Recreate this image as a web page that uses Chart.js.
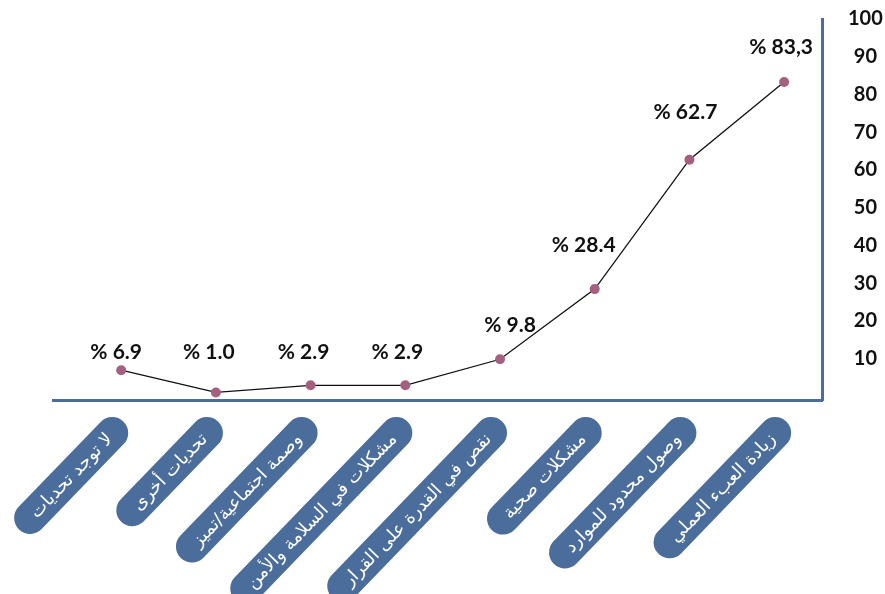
<!DOCTYPE html>
<html lang="ar">
<head>
<meta charset="utf-8">
<script src="https://cdn.jsdelivr.net/npm/chart.js@4.4.1/dist/chart.umd.min.js"></script>
<style>
  html, body { margin: 0; padding: 0; background: #fff; }
</style>
</head>
<body>
<canvas id="lineChart" width="885" height="594"></canvas>
<script>
const categories = ['لا توجد تحديات', 'تحديات أخرى', 'وصمة اجتماعية/تميز', 'مشكلات في السلامة والأمن',
                    'نقص في القدرة على القرار', 'مشكلات صحية', 'وصول محدود للموارد', 'زيادة العبء العملي'];
const values = [6.9, 1.0, 2.9, 2.9, 9.8, 28.4, 62.7, 83.3];
const valueLabels = ['% 6.9', '% 1.0', '% 2.9', '% 2.9', '% 9.8', '% 28.4', '% 62.7', '% 83,3'];
const yTicks = [10, 20, 30, 40, 50, 60, 70, 80, 90, 100];

const axisBlue = '#4a6d9c';

// small shifts for the percentage labels, from each point
const labelNudge = [[-5, -18], [-7, -40], [-7, -33], [-8, -33], [10, -34], [-11, -44], [-4, -47], [-3, -35]];

// percentage text above the points
const valueLabelPlugin = {
    id: 'valueLabels',
    afterDatasetsDraw(chart) {
        const ctx = chart.ctx;
        const meta = chart.getDatasetMeta(0);
        ctx.save();
        ctx.font = '700 21px Lato';
        ctx.fillStyle = '#111';
        ctx.textAlign = 'center';
        ctx.textBaseline = 'middle';
        meta.data.forEach((pt, i) => {
            const [dx, dy] = labelNudge[i];
            ctx.fillText(valueLabels[i], pt.x + dx, pt.y + dy);
        });
        ctx.restore();
    }
};

// category names in slanted rounded boxes under the axis
const pillLabelPlugin = {
    id: 'pillLabels',
    afterDraw(chart) {
        const ctx = chart.ctx;
        const xScale = chart.scales.x;
        const r = 16, pad = 20, angle = -46 * Math.PI / 180;
        ctx.save();
        ctx.font = '18px "DejaVu Sans"';
        categories.forEach((label, i) => {
            const ex = xScale.getPixelForValue(i) - 9;
            const ey = xScale.top + 33;
            const w = ctx.measureText(label).width + pad * 2;
            ctx.save();
            ctx.translate(ex, ey);
            ctx.rotate(angle);
            ctx.beginPath();
            ctx.roundRect(r - w, -r, w, 2 * r, r);
            ctx.fillStyle = axisBlue;
            ctx.fill();
            ctx.fillStyle = '#fff';
            ctx.direction = 'rtl';
            ctx.textAlign = 'center';
            ctx.textBaseline = 'middle';
            ctx.fillText(label, r - w / 2, 1);
            ctx.restore();
        });
        ctx.restore();
    }
};

new Chart(document.getElementById('lineChart'), {
    type: 'line',
    data: {
        datasets: [{
            data: values.map((v, i) => ({ x: i, y: v })),
            borderColor: '#111',
            borderWidth: 1.3,
            pointBackgroundColor: '#a6607f',
            pointBorderWidth: 0,
            pointRadius: 5,
            tension: 0
        }]
    },
    options: {
        responsive: false,
        animation: false,
        layout: { padding: { top: 19, left: 53 } },
        scales: {
            x: {
                type: 'linear',
                min: -0.72,
                max: 7.4,
                grid: { display: false },
                ticks: { display: false },
                border: { color: axisBlue, width: 3 },
                afterFit(s) { s.height = 194; }
            },
            y: {
                position: 'right',
                min: -1,
                max: 100,
                afterBuildTicks(s) { s.ticks = yTicks.map(v => ({ value: v })); },
                grid: { display: false },
                border: { color: axisBlue, width: 3 },
                ticks: {
                    color: '#111',
                    padding: 18,
                    crossAlign: 'center',
                    font: { family: 'Lato', size: 20, weight: 'bold' }
                },
                afterFit(s) {
                    s.width = 63;
                    s.paddingTop = 0;
                    s.paddingBottom = 0;
                }
            }
        },
        plugins: {
            legend: { display: false },
            tooltip: { enabled: false }
        }
    },
    plugins: [valueLabelPlugin, pillLabelPlugin]
});
</script>
</body>
</html>
